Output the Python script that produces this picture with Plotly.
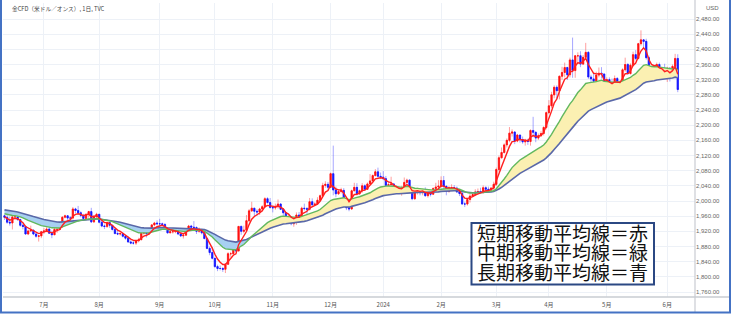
import numpy as np
import pandas as pd
import plotly.graph_objects as go

# ---------------- data ----------------
# hidden closes before the first visible bar (only used to warm up the moving averages)
warmup_closes = [1978, 1940, 1970, 1993, 1978, 1956, 1973, 1964, 1980, 1969,
                 1984, 2020, 2021, 2008, 1990, 2003, 2015, 2040, 2004,
                 1995, 2005, 1994, 2004, 1983, 1989, 1998, 1990, 1988, 1990,
                 1983, 2016, 2039, 2050, 2017, 2022, 2034, 2030, 2015, 2011,
                 2017, 1989, 1982, 1958, 1978, 1971, 1975, 1958, 1941, 1946,
                 1943, 1959, 1963, 1978, 1948, 1961, 1963, 1940, 1965, 1961]

closes = [
    # 2023-06
    1957, 1944, 1942, 1958, 1958, 1951, 1936, 1933, 1913, 1921, 1923, 1913, 1907, 1908, 1919,
    # 07
    1921, 1926, 1915, 1911, 1925, 1925, 1932, 1957, 1961, 1955, 1955, 1979, 1975, 1969, 1962,
    1954, 1965, 1972, 1945, 1959, 1965,
    # 08
    1944, 1934, 1933, 1943, 1936, 1925, 1914, 1913, 1914, 1907, 1902, 1892, 1889, 1889, 1895,
    1898, 1915, 1917, 1914, 1920, 1937, 1942, 1940,
    # 09
    1940, 1938, 1926, 1916, 1919, 1919, 1922, 1913, 1908, 1910, 1924, 1934, 1931, 1930, 1920,
    1925, 1916, 1901, 1875, 1864, 1849,
    # 10
    1827, 1822, 1822, 1820, 1833, 1861, 1861, 1874, 1868, 1933, 1920, 1923, 1948, 1974, 1981,
    1973, 1971, 1979, 1985, 2006, 1996, 1983,
    # 11
    1982, 1985, 1992, 1978, 1969, 1950, 1958, 1940, 1946, 1963, 1959, 1981, 1980, 1978, 1998,
    1990, 1992, 2002, 2014, 2041, 2044, 2036,
    # 12
    2072, 2029, 2019, 2025, 2028, 2004, 1982, 1979, 2027, 2036, 2019, 2027, 2040, 2031, 2045,
    2053, 2067, 2077, 2065, 2063,
    # 2024-01
    2059, 2041, 2043, 2045, 2028, 2030, 2025, 2029, 2049, 2055, 2028, 2006, 2023, 2029, 2022,
    2029, 2014, 2021, 2018, 2033, 2037, 2039,
    # 02
    2054, 2039, 2025, 2035, 2035, 2034, 2024, 2020, 1992, 1992, 2004, 2013, 2017, 2024, 2025,
    2024, 2035, 2031, 2029, 2034, 2044,
    # 03
    2083, 2114, 2128, 2148, 2160, 2179, 2182, 2158, 2174, 2162, 2156, 2160, 2157, 2186, 2181,
    2166, 2172, 2178, 2194, 2233,
    # 04
    2251, 2280, 2300, 2291, 2329, 2339, 2352, 2333, 2372, 2344, 2383, 2383, 2361, 2379, 2392,
    2327, 2322, 2316, 2332, 2337, 2335, 2286,
    # 05
    2320, 2303, 2301, 2323, 2314, 2309, 2346, 2360, 2336, 2358, 2386, 2376, 2415, 2425, 2421,
    2378, 2329, 2334, 2350, 2360, 2338, 2343, 2327,
    # 06
    2350, 2326, 2355, 2376, 2294,
]

highs = [
    1964, 1971, 1959, 1960, 1968, 1960, 1953, 1940, 1934, 1925, 1935, 1925, 1916, 1910, 1921,
    1929, 1931, 1929, 1922, 1935, 1929, 1938, 1960, 1964, 1963, 1960, 1984, 1982, 1987, 1973,
    1966, 1967, 1974, 1982, 1962, 1969,
    1966, 1949, 1938, 1946, 1945, 1937, 1929, 1923, 1919, 1916, 1910, 1906, 1896, 1895, 1897,
    1903, 1919, 1922, 1925, 1923, 1939, 1945, 1949,
    1953, 1943, 1942, 1928, 1924, 1929, 1928, 1926, 1917, 1914, 1928, 1937, 1937, 1947, 1933,
    1930, 1926, 1917, 1903, 1880, 1879,
    1850, 1832, 1830, 1826, 1836, 1865, 1866, 1876, 1886, 1934, 1935, 1935, 1963, 1979, 1998,
    1982, 1978, 1982, 1989, 2010, 2010, 2008,
    1987, 1993, 2004, 1994, 1981, 1971, 1965, 1960, 1948, 1970, 1971, 1985, 1993, 1984, 2008,
    2007, 1997, 2010, 2017, 2048, 2052, 2050,
    2075, 2146, 2038, 2031, 2035, 2034, 2004, 1991, 2030, 2048, 2047, 2030, 2047, 2044, 2049,
    2071, 2070, 2084, 2088, 2075,
    2079, 2066, 2050, 2064, 2047, 2041, 2036, 2040, 2062, 2059, 2057, 2030, 2027, 2035, 2032,
    2032, 2036, 2023, 2025, 2036, 2048, 2055,
    2065, 2066, 2040, 2039, 2044, 2042, 2038, 2028, 2025, 1998, 2006, 2019, 2022, 2031, 2033,
    2035, 2041, 2039, 2038, 2037, 2051,
    2088, 2120, 2141, 2152, 2165, 2195, 2189, 2184, 2177, 2175, 2170, 2164, 2164, 2189, 2222,
    2184, 2178, 2184, 2197, 2236,
    2266, 2288, 2305, 2305, 2331, 2354, 2365, 2354, 2378, 2431, 2385, 2392, 2395, 2385, 2417,
    2395, 2333, 2338, 2341, 2352, 2353, 2336,
    2326, 2326, 2323, 2331, 2327, 2318, 2350, 2378, 2364, 2363, 2394, 2398, 2417, 2450, 2426,
    2428, 2383, 2341, 2353, 2365, 2365, 2352, 2362,
    2354, 2353, 2360, 2388, 2387,
]

lows = [
    1950, 1940, 1935, 1925, 1952, 1948, 1932, 1925, 1911, 1910, 1918, 1910, 1903, 1893, 1902,
    1913, 1918, 1913, 1902, 1910, 1916, 1923, 1930, 1954, 1949, 1949, 1951, 1968, 1965, 1957,
    1952, 1953, 1956, 1942, 1942, 1954,
    1941, 1931, 1926, 1929, 1929, 1922, 1913, 1910, 1909, 1904, 1898, 1890, 1886, 1885, 1884,
    1891, 1896, 1911, 1904, 1911, 1918, 1933, 1936,
    1932, 1935, 1925, 1914, 1915, 1914, 1915, 1910, 1905, 1901, 1908, 1922, 1928, 1926, 1913,
    1916, 1912, 1899, 1873, 1857, 1846,
    1824, 1815, 1817, 1813, 1810, 1832, 1853, 1856, 1865, 1868, 1911, 1915, 1921, 1944, 1971,
    1960, 1961, 1963, 1972, 1982, 1993, 1980,
    1970, 1977, 1980, 1977, 1961, 1947, 1944, 1936, 1932, 1937, 1955, 1956, 1975, 1966, 1975,
    1986, 1988, 1991, 2000, 2012, 2035, 2030,
    2034, 2015, 2010, 2016, 2020, 1995, 1976, 1973, 1977, 2025, 2015, 2016, 2022, 2027, 2029,
    2044, 2052, 2065, 2063, 2059,
    2055, 2030, 2034, 2024, 2017, 2022, 2020, 2014, 2026, 2045, 2024, 2002, 2003, 2017, 2015,
    2015, 2011, 2009, 2012, 2016, 2030, 2032,
    2036, 2030, 2015, 2022, 2030, 2027, 2021, 2013, 1990, 1984, 1988, 1996, 2010, 2013, 2020,
    2020, 2019, 2027, 2025, 2024, 2025,
    2039, 2077, 2112, 2125, 2141, 2155, 2170, 2150, 2155, 2154, 2151, 2146, 2148, 2146, 2168,
    2155, 2161, 2169, 2173, 2189,
    2229, 2245, 2271, 2268, 2268, 2320, 2326, 2319, 2326, 2325, 2325, 2364, 2353, 2359, 2372,
    2322, 2291, 2311, 2303, 2326, 2323, 2285,
    2285, 2298, 2277, 2291, 2308, 2303, 2306, 2341, 2334, 2334, 2355, 2371, 2373, 2410, 2406,
    2373, 2325, 2325, 2332, 2339, 2334, 2330, 2323,
    2314, 2315, 2326, 2348, 2287,
]

first_day, last_day = "2023-06-12", "2024-06-07"
holidays = ["2023-12-25", "2024-01-01", "2024-03-29"]
month_labels = ["7月", "8月", "9月", "10月", "11月", "12月", "2024", "2月", "3月", "4月", "5月", "6月"]
y_ticks = list(range(1760, 2481, 40))
ma_spans = {"short": 5, "mid": 20, "long": 42}
title_text = "金CFD（米ドル／オンス）, 1日, TVC"
note_lines = ["短期移動平均線＝赤", "中期移動平均線＝緑", "長期移動平均線＝青"]

# ---------------- derived ----------------
dates = pd.bdate_range(first_day, last_day)
dates = dates[~dates.isin(pd.to_datetime(holidays))]
n = len(closes)
assert len(dates) == n == len(highs) == len(lows), (len(dates), n, len(highs), len(lows))
opens = [warmup_closes[-1]] + closes[:-1]          # CFD: each bar opens at prior close
x = np.arange(n)

full = pd.Series(warmup_closes + closes, dtype=float)
def ema(span):
    return full.ewm(span=span, adjust=False).mean().to_numpy()[len(warmup_closes):]
ma_s, ma_m, ma_l = ema(ma_spans["short"]), ema(ma_spans["mid"]), ema(ma_spans["long"])

tickvals = []
prev_m = dates[0].month
for i, d in enumerate(dates):
    if d.month != prev_m:
        tickvals.append(i)
        prev_m = d.month

# ---------------- geometry ----------------
W, H = 731, 314
ML, MR, MT, MB = 3, 36, 3, 17
PW, PH = W - ML - MR, H - MT - MB
def pxx(p):
    return (p - ML) / PW
def pxy(p):
    return (H - MB - p) / PH
x0_px, dx_px = 4.5, 2.63
xr = [(ML - x0_px) / dx_px, (W - MR - x0_px) / dx_px]
upp = 720 / 273.0
yr = [1760 - (H - MB - 292) * upp, 2480 + (19 - MT) * upp]

UP, DN = "#FF1010", "#1414FF"
UP_W, DN_W = "rgba(255,40,40,0.45)", "rgba(60,60,255,0.45)"
GRID = "#EDF1F7"

fig = go.Figure()

# fills between mid and long MA
hi_band = np.maximum(ma_m, ma_l)
lo_band = np.minimum(ma_m, ma_l)
fig.add_trace(go.Scatter(x=x, y=ma_l, mode="lines", line=dict(width=0), hoverinfo="skip", showlegend=False))
fig.add_trace(go.Scatter(x=x, y=hi_band, mode="lines", line=dict(width=0), fill="tonexty",
                         fillcolor="#FBF0B2", hoverinfo="skip", showlegend=False))
fig.add_trace(go.Scatter(x=x, y=ma_l, mode="lines", line=dict(width=0), hoverinfo="skip", showlegend=False))
fig.add_trace(go.Scatter(x=x, y=lo_band, mode="lines", line=dict(width=0), fill="tonexty",
                         fillcolor="#A7D0F1", hoverinfo="skip", showlegend=False))

# wicks (light) then bodies (solid)
fig.add_trace(go.Candlestick(x=x, open=opens, high=highs, low=lows, close=closes,
                             increasing=dict(line=dict(color=UP_W, width=1), fillcolor=UP_W),
                             decreasing=dict(line=dict(color=DN_W, width=1), fillcolor=DN_W),
                             whiskerwidth=0, hoverinfo="skip", showlegend=False))
body_hi = np.maximum(opens, closes)
body_lo = np.minimum(opens, closes)
fig.add_trace(go.Candlestick(x=x, open=opens, high=body_hi, low=body_lo, close=closes,
                             increasing=dict(line=dict(color=UP, width=0.6), fillcolor=UP),
                             decreasing=dict(line=dict(color=DN, width=0.6), fillcolor=DN),
                             whiskerwidth=0, hoverinfo="skip", showlegend=False))

# moving averages
fig.add_trace(go.Scatter(x=x, y=ma_l, mode="lines", line=dict(color="#5A68A8", width=1.6),
                         hoverinfo="skip", showlegend=False))
fig.add_trace(go.Scatter(x=x, y=ma_m, mode="lines", line=dict(color="#62B85E", width=1.4),
                         hoverinfo="skip", showlegend=False))
fig.add_trace(go.Scatter(x=x, y=ma_s, mode="lines", line=dict(color="#FF2020", width=1.4),
                         hoverinfo="skip", showlegend=False))

shapes = [
    # bottom axis line, extended under the price scale
    dict(type="line", xref="paper", yref="paper", x0=0, x1=pxx(729), y0=0, y1=0,
         line=dict(color="#C9CCD2", width=1.5), layer="above"),
    # price-scale separator
    dict(type="line", xref="paper", yref="paper", x0=pxx(695), x1=pxx(695), y0=pxy(0), y1=pxy(312),
         line=dict(color="#C9CCD2", width=1.2), layer="above"),
    # note box
    dict(type="rect", xref="paper", yref="paper", x0=pxx(471.5), x1=pxx(654), y0=pxy(284.5), y1=pxy(223),
         line=dict(color="#2B4883", width=2), fillcolor="white", layer="above"),
    # blue outer frame (top cropped)
    dict(type="rect", xref="paper", yref="paper", x0=pxx(1), x1=pxx(730), y0=pxy(312.5), y1=pxy(-5),
         line=dict(color="#4472C4", width=2), fillcolor="rgba(0,0,0,0)", layer="above"),
]

ann = [
    dict(text=title_text, x=pxx(10), y=pxy(8), xanchor="left", yanchor="middle",
         font=dict(size=5.7, color="#444444", family="Noto Sans CJK JP")),
    dict(text="USD", x=pxx(712), y=pxy(8), xanchor="center", yanchor="middle",
         font=dict(size=6, color="#666666", family="Liberation Sans")),
]
for k, t in enumerate(note_lines):
    ann.append(dict(text=t, x=pxx(475), y=pxy(234 + 19.5 * k), xanchor="left", yanchor="middle",
                    font=dict(size=19, color="#111111", family="Liberation Serif, Noto Sans CJK JP")))
for a in ann:
    a.update(xref="paper", yref="paper", showarrow=False)

fig.update_layout(
    width=W, height=H,
    margin=dict(l=ML, r=MR, t=MT, b=MB, pad=0),
    paper_bgcolor="white", plot_bgcolor="white",
    showlegend=False,
    shapes=shapes, annotations=ann,
    xaxis=dict(range=xr, tickvals=tickvals, ticktext=month_labels, showgrid=True, gridcolor=GRID,
               gridwidth=1, zeroline=False, showline=False, ticks="", ticklabelstandoff=3,
               tickfont=dict(size=6, color="#555555", family="Noto Sans CJK JP"),
               rangeslider=dict(visible=False), fixedrange=True),
    yaxis=dict(range=yr, side="right", tickvals=y_ticks, tickformat=",.2f", showgrid=True,
               gridcolor=GRID, gridwidth=1, zeroline=False, showline=False, ticks="",
               tickfont=dict(size=6, color="#666666", family="Liberation Sans"), fixedrange=True),
)

fig.write_html("out.html")
